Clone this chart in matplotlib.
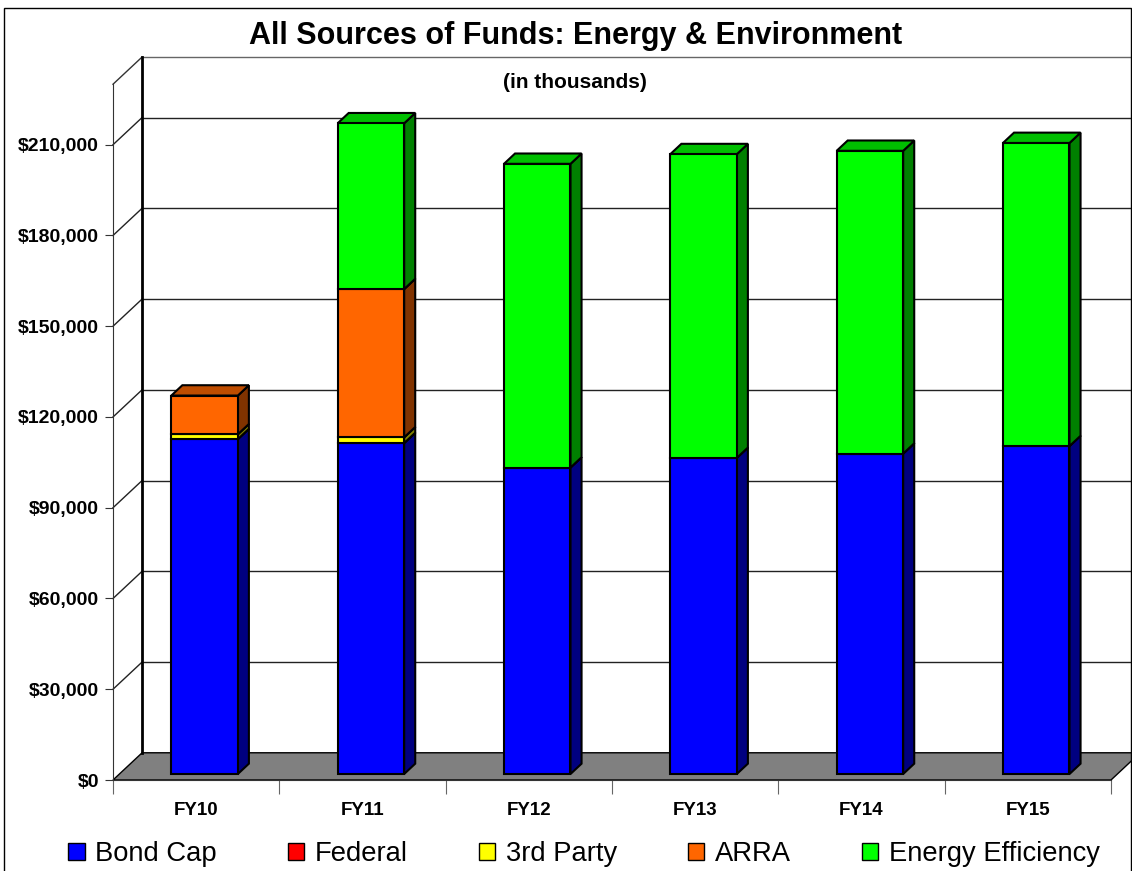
import matplotlib
matplotlib.use("Agg")
import matplotlib.pyplot as plt
from matplotlib.patches import Polygon, Rectangle, Patch
from matplotlib.ticker import FuncFormatter
import numpy as np

plt.rcParams["font.family"] = ["Liberation Sans", "DejaVu Sans"]

# Funding by source, in thousands of dollars
years = ["FY10", "FY11", "FY12", "FY13", "FY14", "FY15"]
series_names = ["Bond Cap", "Federal", "3rd Party", "ARRA", "Energy Efficiency"]
bond_cap = [110700, 109400, 101300, 104500, 105900, 108400]
federal = [0, 0, 0, 0, 0, 0]
third_party = [1600, 1900, 0, 0, 0, 0]
arra = [12800, 49000, 0, 0, 0, 0]
energy_eff = [0, 54800, 100400, 100400, 100100, 100200]

colors = ["#0000FF", "#FF0000", "#FFFF00", "#FF6600", "#00FF00"]
yticks = np.arange(0, 210001, 30000)

# pseudo-3d geometry (in data units)
DX = 0.175        # depth offset along x (categories)
DY = 9000         # depth offset along y (value)
WALL_TOP = 230000
BAR_W = 0.40
F0, F1 = 0.22, 0.60   # front / back depth fractions of the bars
BAR_SHIFT = 0.012


def shade(c, k):
    r, g, b = matplotlib.colors.to_rgb(c)
    return (r * k, g * k, b * k)


fig = plt.figure(figsize=(11.32, 8.71), dpi=100)
W, H = 1132, 871
ax = fig.add_axes([113 / W, (H - 780) / H, 998 / W, 723 / H])
ax.set_xlim(-0.5, 5.5)
ax.set_ylim(0, WALL_TOP + DY)
ax.patch.set_visible(False)

# floor
floor = Polygon([(-0.5, 0), (5.5, 0), (5.5 + DX, DY), (-0.5 + DX, DY)],
                closed=True, facecolor="#808080", edgecolor="black", lw=1,
                clip_on=False, zorder=1)
ax.add_patch(floor)

# back wall gridlines and side wall diagonals
x_back = -0.5 + DX
for v in yticks[1:]:
    ax.plot([x_back, 5.5 + DX + 0.1], [v + DY, v + DY], color="#222222",
            lw=1, clip_on=False, zorder=1)
    ax.plot([-0.5, x_back], [v, v + DY], color="#222222", lw=1,
            clip_on=False, zorder=1)
ax.plot([-0.5, x_back], [WALL_TOP, WALL_TOP + DY], color="#333333", lw=1,
        clip_on=False, zorder=1)
ax.plot([x_back, 5.5 + DX + 0.1], [WALL_TOP + DY, WALL_TOP + DY],
        color="#666666", lw=1, clip_on=False, zorder=1)
ax.plot([x_back, x_back], [DY, WALL_TOP + DY], color="black", lw=2,
        clip_on=False, zorder=2)

# stacked 3d bars
data = [bond_cap, federal, third_party, arra, energy_eff]
ddx = (F1 - F0) * DX
ddy = (F1 - F0) * DY
z = 3
for i in range(len(years)):
    x0 = i - BAR_W / 2 + F0 * DX + BAR_SHIFT
    x1 = x0 + BAR_W
    base = F0 * DY
    for vals, col in zip(data, colors):
        v = vals[i]
        if v <= 0:
            continue
        top = base + v
        front = Rectangle((x0, base), BAR_W, v, facecolor=col,
                          edgecolor="black", lw=1.5, zorder=z)
        side = Polygon([(x1, base), (x1, top), (x1 + ddx, top + ddy),
                        (x1 + ddx, base + ddy)], closed=True,
                       facecolor=shade(col, 0.5), edgecolor="black",
                       lw=1.5, zorder=z)
        lid = Polygon([(x0, top), (x1, top), (x1 + ddx, top + ddy),
                       (x0 + ddx, top + ddy)], closed=True,
                      facecolor=shade(col, 0.75), edgecolor="black",
                      lw=1.5, zorder=z)
        for p in (side, lid, front):
            ax.add_patch(p)
        z += 1
        base = top

# axes: front value axis and category axis
for s in ["top", "right"]:
    ax.spines[s].set_visible(False)
ax.spines["left"].set_bounds(0, WALL_TOP)
ax.spines["left"].set_color("#333333")
ax.spines["bottom"].set_color("#333333")
ax.spines["bottom"].set_zorder(2)
ax.set_yticks(yticks)
ax.yaxis.set_major_formatter(FuncFormatter(lambda v, p: f"${v:,.0f}"))
ax.tick_params(axis="y", length=6, color="#333333", labelsize=14, pad=4)
for t in ax.get_yticklabels():
    t.set_fontweight("bold")

ax.set_xticks(np.arange(-0.5, 6, 1))
ax.set_xticklabels([])
ax.set_xticks(np.arange(len(years)), minor=True)
ax.set_xticklabels(years, minor=True, fontsize=13.5, fontweight="bold")
ax.tick_params(axis="x", which="major", length=10, color="#666666")
ax.tick_params(axis="x", which="minor", length=0, pad=16)

# chart border
fig.add_artist(Rectangle((4 / W, -0.1), 1127 / W, (H - 8) / H + 0.1,
                         transform=fig.transFigure, fill=False,
                         edgecolor="black", lw=1))

fig.text(0.5085, 1 - 36 / H, "All Sources of Funds: Energy & Environment",
         ha="center", va="center", fontsize=22, fontweight="bold")
fig.text(0.508, 1 - 83 / H, "(in thousands)", ha="center", va="center",
         fontsize=15, fontweight="bold")

handles = [Patch(facecolor=c, edgecolor="black", lw=1) for c in colors]
fig.legend(handles, series_names, loc="center", ncol=5,
           bbox_to_anchor=(0.516, 1 - 854 / H), frameon=False, fontsize=19.7,
           handlelength=0.6, handleheight=0.6, handletextpad=0.4,
           columnspacing=2.58)

fig.savefig("out.png", dpi=100)
